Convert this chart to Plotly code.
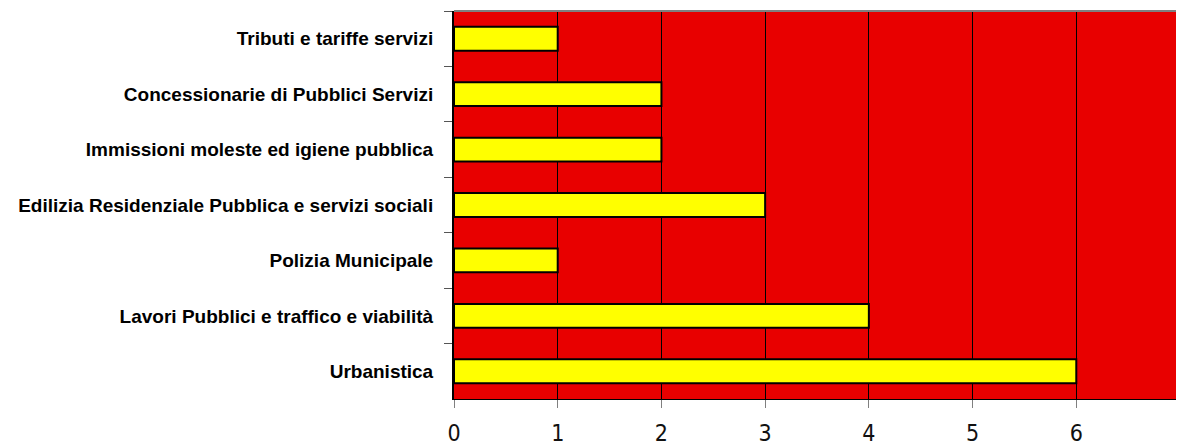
import plotly.graph_objects as go

categories = [
    "Tributi e tariffe servizi",
    "Concessionarie di Pubblici Servizi",
    "Immissioni moleste ed igiene pubblica",
    "Edilizia Residenziale Pubblica e servizi sociali",
    "Polizia Municipale",
    "Lavori Pubblici e traffico e viabilità",
    "Urbanistica",
]
values = [1, 2, 2, 3, 1, 4, 6]
x_ticks = [0, 1, 2, 3, 4, 5, 6, 7]

fig = go.Figure()
fig.add_trace(go.Bar(
    x=values,
    y=categories,
    orientation="h",
    marker=dict(color="#FFFF00", line=dict(color="black", width=2)),
    hoverinfo="x+y",
))

fig.update_layout(
    width=1176,
    height=438,
    margin=dict(l=446, r=4, t=3, b=47),
    plot_bgcolor="#e80000",
    paper_bgcolor="white",
    bargap=0.57,
    showlegend=False,
    xaxis=dict(
        range=[0, 7],
        tickvals=x_ticks,
        ticktext=[str(v) for v in x_ticks],
        showgrid=True,
        gridcolor="black",
        gridwidth=1,
        zeroline=False,
        showline=True,
        linecolor="black",
        linewidth=1,
        ticks="outside",
        ticklen=8,
        tickcolor="#808080",
        tickfont=dict(family="Liberation Sans Narrow, DejaVu Sans Condensed, Roboto, sans-serif",
                      size=23, color="#111111"),
        ticklabelstandoff=5,
        automargin=False,
        fixedrange=True,
    ),
    yaxis=dict(
        autorange="reversed",
        tickson="boundaries",
        ticks="outside",
        ticklen=8,
        tickcolor="#555555",
        showgrid=False,
        showline=True,
        linecolor="black",
        linewidth=2,
        tickfont=dict(family="Liberation Sans, Arial, sans-serif", size=19, color="black", weight="bold"),
        ticklabelstandoff=15,
        automargin=False,
        fixedrange=True,
    ),
    shapes=[
        dict(type="line", xref="paper", yref="paper", x0=0, x1=1, y0=1, y1=1,
             line=dict(color="#808080", width=2)),
        dict(type="line", xref="paper", yref="paper", x0=1, x1=1, y0=0, y1=1,
             line=dict(color="#404040", width=2)),
    ],
)

fig.write_html("out.html")
